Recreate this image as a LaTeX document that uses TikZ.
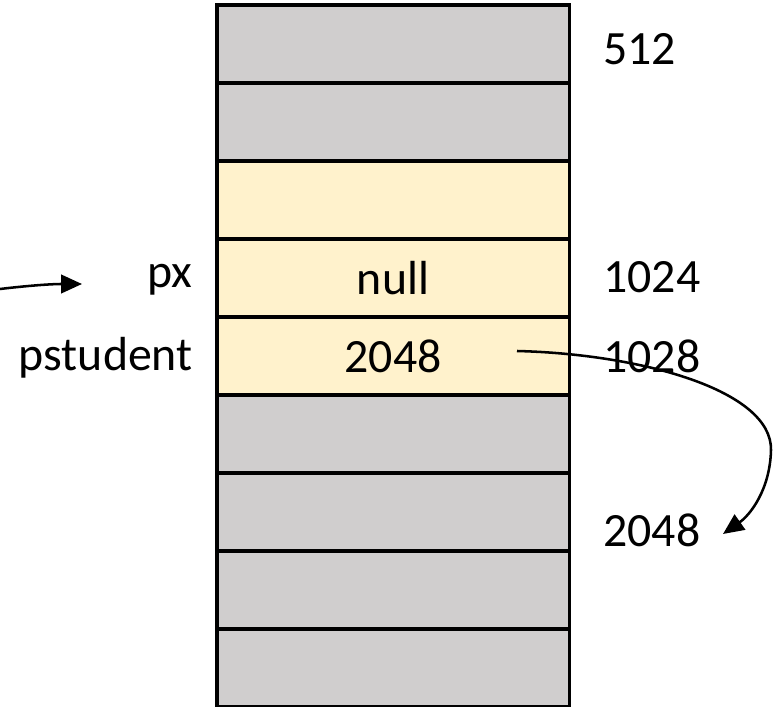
\documentclass[tikz,border=0pt]{standalone}
\usepackage{fontspec}
\setmainfont{Carlito}
\usetikzlibrary{arrows.meta}
\definecolor{cellgray}{HTML}{D0CECE}
\definecolor{cellyellow}{HTML}{FFF2CC}
\tikzset{
  cell/.style={draw, line width=2.2pt, minimum width=8.8cm, minimum height=1.95cm, inner sep=0pt},
  gcell/.style={cell, fill=cellgray},
  ycell/.style={cell, fill=cellyellow},
  lbl/.style={inner sep=0pt},
  ptr/.style={line width=1.8pt, -{Triangle[length=0.52cm,width=0.46cm]}}
}
\begin{document}
\begin{tikzpicture}[x=0.025cm, y=-0.025cm, font=\fontsize{34}{40}\selectfont]
\useasboundingbox (0,0) rectangle (776,707);
% memory cells, top to bottom
\node[gcell] (m1) at (393,44) {};
\node[gcell] (m2) at (393,122) {};
\node[ycell] (m3) at (393,200) {};
\node[ycell] (m4) at (393,278) {null};
\node[ycell] (m5) at (393,356) {2048};
\node[gcell] (m6) at (393,434) {};
\node[gcell] (m7) at (393,512) {};
\node[gcell] (m8) at (393,590) {};
\node[gcell] (m9) at (393,668) {};

% addresses
\node[lbl, anchor=base west] (a512) at (603,65) {512};
\node[lbl, anchor=base west] (a1024) at (603,293) {1024};
\node[lbl, anchor=base west] (a1028) at (603,373) {1028};
\node[lbl, anchor=base west] (a2048) at (603,547) {2048};

% variable names
\node[lbl, anchor=base east] (px) at (193,288) {px};
\node[lbl, anchor=base east] (pstudent) at (193,371) {pstudent};

% pointers
\coordinate (pxin) at (0,289);
\coordinate (pxtip) at (82,284);
\coordinate (pfrom) at (517,351);
\coordinate (pto) at (723,534);
\draw[ptr] (pxin) .. controls (25,286) and (50,284) .. (pxtip);
\draw[ptr] (pfrom) .. controls (640,354) and (772,390) .. (771,450)
  .. controls (770,490) and (750,515) .. (pto);
\end{tikzpicture}
\end{document}
